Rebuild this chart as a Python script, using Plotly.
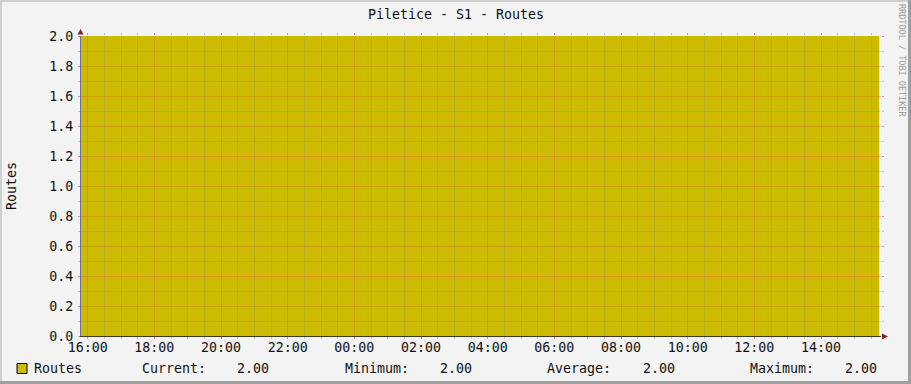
import plotly.graph_objects as go
import pandas as pd

# ---------------- data ----------------
title_text = "Piletice - S1 - Routes"
series_name = "Routes"
y_label = "Routes"
watermark = "RRDTOOL / TOBI OETIKER"

times = ["2024-05-01 15:48", "2024-05-01 18:00", "2024-05-01 21:00",
         "2024-05-02 00:00", "2024-05-02 03:00", "2024-05-02 06:00",
         "2024-05-02 09:00", "2024-05-02 12:00", "2024-05-02 15:45"]
values = [2.0, 2.0, 2.0, 2.0, 2.0, 2.0, 2.0, 2.0, 2.0]

x_start = "2024-05-01 15:48"
x_end = "2024-05-02 15:48"
y_range = [0.0, 2.0]
y_major_ticks = [0.0, 0.2, 0.4, 0.6, 0.8, 1.0, 1.2, 1.4, 1.6, 1.8, 2.0]
y_tick_labels = ["0.0", "0.2", "0.4", "0.6", "0.8", "1.0", "1.2", "1.4", "1.6", "1.8", "2.0"]
y_minor_ticks = [0.1, 0.3, 0.5, 0.7, 0.9, 1.1, 1.3, 1.5, 1.7, 1.9]
x_major_ticks = ["2024-05-01 16:00", "2024-05-01 18:00", "2024-05-01 20:00",
                 "2024-05-01 22:00", "2024-05-02 00:00", "2024-05-02 02:00",
                 "2024-05-02 04:00", "2024-05-02 06:00", "2024-05-02 08:00",
                 "2024-05-02 10:00", "2024-05-02 12:00", "2024-05-02 14:00"]
x_tick_labels = ["16:00", "18:00", "20:00", "22:00", "00:00", "02:00",
                 "04:00", "06:00", "08:00", "10:00", "12:00", "14:00"]

legend_labels = ["Current:", "Minimum:", "Average:", "Maximum:"]

# ---------------- style ----------------
W, H = 911, 384
L, T, PW, PH = 81, 36, 800, 300
FONT = "DejaVu Sans Mono"
FS = 13.3
AREA = "#CCBB00"
BACK = "#F3F3F3"
MGRID = "rgba(225,75,75,0.62)"
GRID = "rgba(140,140,140,0.50)"
MGRID_S = "rgba(235,85,60,0.33)"
GRID_S = "rgba(130,130,130,0.24)"
ARROW = "#7F1F1F"


def px(x):
    return (x - L) / PW


def py(y):
    return (T + PH - y) / PH


minor_x = [t for t in pd.date_range("2024-05-01 16:00", "2024-05-02 15:30", freq="30min")
           if t not in set(pd.to_datetime(x_major_ticks))]

fig = go.Figure()
fig.add_trace(go.Scatter(
    x=times, y=values, mode="lines", line=dict(width=0, color=AREA, shape="hv"),
    fill="tozeroy", fillcolor=AREA, name=series_name, showlegend=False,
    hoverinfo="skip", xaxis="x", yaxis="y"))
# empty trace on the grid subplot (drawn above the area)
fig.add_trace(go.Scatter(x=[], y=[], xaxis="x2", yaxis="y2", showlegend=False,
                         hoverinfo="skip"))

shapes = []
# white canvas under the plot area
shapes.append(dict(type="rect", xref="paper", yref="paper", x0=0, x1=1, y0=0, y1=1,
                   fillcolor="#FFFFFF", line=dict(width=0), layer="below"))
# arrows
shapes.append(dict(type="path", xref="paper", yref="paper",
                   path=f"M {px(80.5)} {py(29)} L {px(77.5)} {py(34.5)} L {px(83.5)} {py(34.5)} Z",
                   fillcolor=ARROW, line=dict(width=0), layer="above"))
shapes.append(dict(type="path", xref="paper", yref="paper",
                   path=f"M {px(888)} {py(336.5)} L {px(882)} {py(333.5)} L {px(882)} {py(339.5)} Z",
                   fillcolor=ARROW, line=dict(width=0), layer="above"))


def rect(x0, y0, x1, y1, color):
    return dict(type="rect", xref="paper", yref="paper", x0=px(x0), x1=px(x1),
                y0=py(y0), y1=py(y1), fillcolor=color, line=dict(width=0), layer="above")


shapes.append(rect(0, 0, W, 2, "#CFCFCF"))
shapes.append(rect(0, 0, 2, H, "#CFCFCF"))
shapes.append(rect(W - 3, 0, W, H, "#9E9E9E"))
shapes.append(rect(0, H - 3, W, H, "#9E9E9E"))

# legend swatch
shapes.append(dict(type="rect", xref="paper", yref="paper", x0=px(17), x1=px(27),
                   y0=py(373.5), y1=py(363.5), fillcolor=AREA,
                   line=dict(color="#000000", width=1), layer="above"))

annotations = []


def text(x, y, s, xanchor="left", size=FS, color="#111111", angle=0):
    annotations.append(dict(x=px(x), y=py(y), xref="paper", yref="paper", text=s,
                            showarrow=False, xanchor=xanchor, yanchor="middle",
                            textangle=angle, font=dict(family=FONT, size=size, color=color)))


text(455.5, 14, title_text, xanchor="center")
text(11, 186, y_label, xanchor="center", angle=-90)
text(902.5, 60.5, watermark, xanchor="center", size=8.5, color="#9A9A9A", angle=90)

stats = [values[-1], min(values), sum(values) / len(values), max(values)]
label_x = [140, 342.5, 545, 747.5]
value_x = [235, 438, 640.5, 843]
text(32, 368.5, series_name)
for lab, val, lx, vx in zip(legend_labels, stats, label_x, value_x):
    text(lx, 368.5, lab)
    text(vx, 368.5, f"{val:.2f}")

tickfont = dict(family=FONT, size=FS, color="#111111")

fig.update_layout(
    width=W, height=H, autosize=False,
    margin=dict(l=L, r=W - L - PW, t=T, b=H - T - PH, pad=0),
    paper_bgcolor=BACK, plot_bgcolor="rgba(0,0,0,0)",
    showlegend=False,
    shapes=shapes, annotations=annotations,
    font=dict(family=FONT, size=FS, color="#111111"),
    xaxis=dict(
        type="date", range=[x_start, x_end], domain=[0, 1], anchor="y",
        tickmode="array", tickvals=x_major_ticks, ticktext=x_tick_labels,
        showgrid=False, zeroline=False,
        showline=True, linecolor="#3A3A20", linewidth=1,
        ticks="", tickfont=tickfont, ticklabelstandoff=-1,
    ),
    yaxis=dict(
        range=y_range, domain=[0, 1], anchor="x",
        tickmode="array", tickvals=y_major_ticks, ticktext=y_tick_labels,
        showgrid=False, zeroline=False,
        showline=True, linecolor="#6E6E9E", linewidth=1,
        ticks="", tickfont=tickfont, ticklabelstandoff=4,
    ),
    xaxis2=dict(
        type="date", range=[x_start, x_end], domain=[0, 1], anchor="y2",
        tickmode="array", tickvals=x_major_ticks, showticklabels=False,
        showgrid=True, gridcolor=MGRID_S, gridwidth=1,
        zeroline=False, showline=False,
        ticks="outside", ticklen=2, tickcolor=MGRID, mirror="ticks",
        minor=dict(tickvals=minor_x, ticks="outside", ticklen=2, tickcolor=GRID,
                   showgrid=True, gridcolor=GRID_S, gridwidth=1),
    ),
    yaxis2=dict(
        range=y_range, domain=[0, 1], anchor="x2",
        tickmode="array", tickvals=y_major_ticks, showticklabels=False,
        showgrid=True, gridcolor=MGRID_S, gridwidth=1,
        zeroline=False, showline=False,
        ticks="outside", ticklen=2, tickcolor=MGRID, mirror="ticks",
        minor=dict(tickvals=y_minor_ticks, ticks="outside", ticklen=2, tickcolor=GRID,
                   showgrid=True, gridcolor=GRID_S, gridwidth=1),
    ),
)

fig.write_html("out.html")
